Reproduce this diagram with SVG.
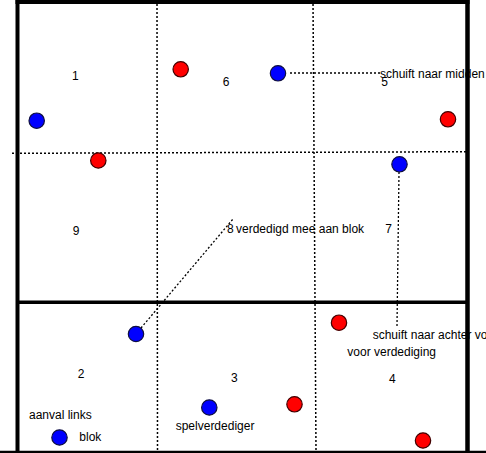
<svg xmlns="http://www.w3.org/2000/svg" width="486" height="453" viewBox="0 0 486 453">
<style>
  text { font-family: "Liberation Sans", Arial, sans-serif; font-size: 12px; fill: #000; }
  .grid { stroke: #000; stroke-width: 1.5; stroke-dasharray: 2 2; fill: none; }
  .link { stroke: #000; stroke-width: 1.3; stroke-dasharray: 2 2; fill: none; }
  .border { stroke: #000; fill: none; }
  .blue { fill: #0000ff; stroke: #101040; stroke-width: 1.2; }
  .red { fill: #ff0000; stroke: #400000; stroke-width: 1.2; }
</style>
<rect width="486" height="453" fill="#fff"/>
<g id="grid">
  <line class="grid" x1="157" y1="0" x2="157.5" y2="451"/>
  <line class="grid" x1="313" y1="0" x2="316" y2="451"/>
  <line class="grid" x1="12" y1="153.3" x2="466" y2="151.7"/>
</g>
<g id="zone-numbers">
  <text x="72" y="80">1</text>
  <text x="222.7" y="86">6</text>
  <text x="381.3" y="86">5</text>
  <text x="72.7" y="235">9</text>
  <text x="227" y="233">8</text>
  <text x="385.3" y="233">7</text>
  <text x="77.7" y="378">2</text>
  <text x="231" y="382">3</text>
  <text x="389" y="383">4</text>
</g>
<g id="connectors">
  <line class="link" x1="290" y1="73" x2="380" y2="73"/>
  <line class="link" x1="141" y1="328" x2="233" y2="219"/>
  <line class="link" x1="399" y1="172" x2="397" y2="326"/>
</g>
<g id="labels">
  <text x="380" y="78">schuift naar midden</text>
  <text x="236" y="233">verdedigd mee aan blok</text>
  <text x="372.7" y="339">schuift naar achter vo</text>
  <text x="347.3" y="356">voor verdediging</text>
  <text x="29" y="419">aanval links</text>
  <text x="79.3" y="441">blok</text>
  <text x="175.7" y="430">spelverdediger</text>
</g>
<g id="player-b1"><circle class="blue" cx="36.7" cy="120.7" r="7.7"/></g>
<g id="player-b2"><circle class="blue" cx="278" cy="73.3" r="7.7"/></g>
<g id="player-b3"><circle class="blue" cx="399.5" cy="164.3" r="7.7"/></g>
<g id="player-b4"><circle class="blue" cx="136" cy="334" r="7.7"/></g>
<g id="player-b5"><circle class="blue" cx="209.3" cy="407.5" r="7.7"/></g>
<g id="player-b6"><circle class="blue" cx="59.5" cy="437.5" r="7.7"/></g>
<g id="player-r1"><circle class="red" cx="180.7" cy="69.3" r="7.7"/></g>
<g id="player-r2"><circle class="red" cx="448" cy="119.3" r="7.7"/></g>
<g id="player-r3"><circle class="red" cx="98.3" cy="160.5" r="7.7"/></g>
<g id="player-r4"><circle class="red" cx="339" cy="322.7" r="7.7"/></g>
<g id="player-r5"><circle class="red" cx="294.5" cy="404.3" r="7.7"/></g>
<g id="player-r6"><circle class="red" cx="423" cy="440.5" r="7.7"/></g>
<g id="field-border">
  <line class="border" x1="15.5" y1="2" x2="469.5" y2="2" stroke-width="4"/>
  <line class="border" x1="17.5" y1="0" x2="17.5" y2="451" stroke-width="4"/>
  <line class="border" x1="467.5" y1="0" x2="467.5" y2="451" stroke-width="4.5"/>
  <line class="border" x1="17" y1="302.3" x2="467" y2="302.3" stroke-width="3.4"/>
  <line class="border" x1="0" y1="451.8" x2="486" y2="451.8" stroke-width="2.2"/>
</g>
</svg>
